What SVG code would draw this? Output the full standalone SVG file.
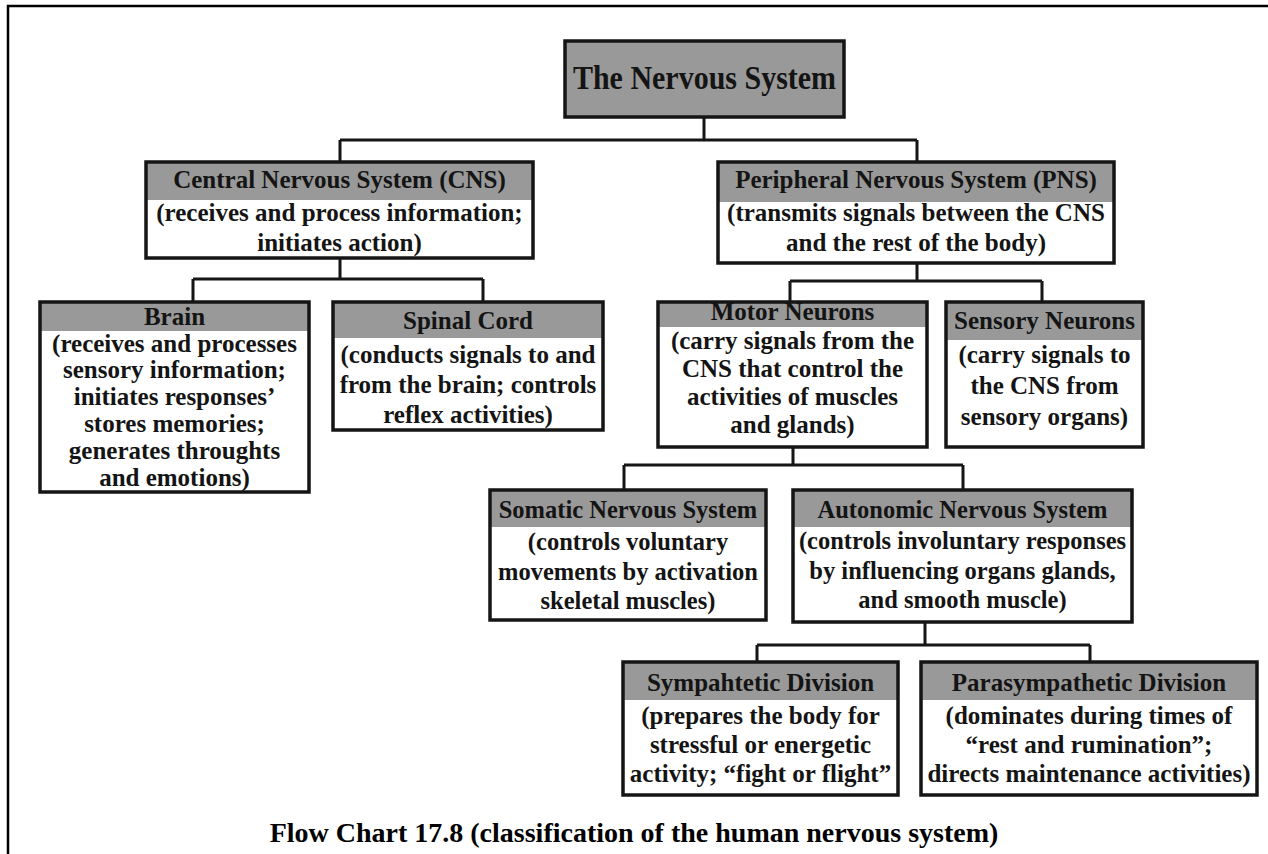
<svg xmlns="http://www.w3.org/2000/svg" width="1268" height="854" viewBox="0 0 1268 854">
<style>
.bg{fill:#fff}
.hd{fill:#999999}
.bd{fill:none;stroke:#151515;stroke-width:3.5}
.ln{fill:none;stroke:#151515;stroke-width:3}
.t{font-family:"Liberation Serif","Times New Roman",serif;font-weight:bold;font-size:25px;text-anchor:middle;fill:#141414}
.s{font-size:24.5px}
.cap{font-family:"Liberation Serif","Times New Roman",serif;font-weight:bold;font-size:28px;text-anchor:middle;fill:#000}
</style>
<rect x="0" y="0" width="1268" height="854" fill="#fff"/>
<path d="M8,854 V6 H1268" fill="none" stroke="#000" stroke-width="2.5"/>
<g id="connectors" class="ln">
<path d="M704,117 V140 M340,140 H917 M340,140 V162 M917,140 V162"/>
<path d="M340,258 V279 M193,279 H483 M193,279 V302 M483,279 V302"/>
<path d="M917,263 V281 M790,281 H1042 M790,281 V302 M1042,281 V302"/>
<path d="M793,447 V465 M624,465 H963 M624,465 V490 M963,465 V490"/>
<path d="M925,622 V645 M757,645 H1090 M757,645 V662 M1090,645 V662"/>
</g>
<g id="nervous-system">
<rect class="hd" x="565" y="41" width="279" height="76"/>
<rect class="bd" x="565" y="41" width="279" height="76"/>
<text class="t" x="0" y="0" style="font-size:30px" transform="translate(704.5,89) scale(1,1.15)">The Nervous System</text>
</g>
<g id="cns">
<rect class="bg" x="146" y="162" width="387" height="96"/>
<rect class="hd" x="146" y="162" width="387" height="38"/>
<rect class="bd" x="146" y="162" width="387" height="96"/>
<text class="t" x="339.5" y="188">Central Nervous System (CNS)</text>
<text class="t" x="339.5" y="221">(receives and process information;</text>
<text class="t" x="339.5" y="251">initiates action)</text>
</g>
<g id="pns">
<rect class="bg" x="718" y="162" width="396" height="101"/>
<rect class="hd" x="718" y="162" width="396" height="40"/>
<rect class="bd" x="718" y="162" width="396" height="101"/>
<text class="t" x="916" y="188">Peripheral Nervous System (PNS)</text>
<text class="t" x="916" y="221">(transmits signals between the CNS</text>
<text class="t" x="916" y="251">and the rest of the body)</text>
</g>
<g id="brain">
<rect class="bg" x="40" y="302" width="269" height="190"/>
<rect class="hd" x="40" y="302" width="269" height="29"/>
<rect class="bd" x="40" y="302" width="269" height="190"/>
<text class="t" x="174.5" y="325">Brain</text>
<text class="t" x="174.5" y="352">(receives and processes</text>
<text class="t" x="174.5" y="378">sensory information;</text>
<text class="t" x="174.5" y="405">initiates responses’</text>
<text class="t" x="174.5" y="432">stores memories;</text>
<text class="t" x="174.5" y="459">generates throughts</text>
<text class="t" x="174.5" y="486">and emotions)</text>
</g>
<g id="spinal-cord">
<rect class="bg" x="333" y="302" width="270" height="128"/>
<rect class="hd" x="333" y="302" width="270" height="36"/>
<rect class="bd" x="333" y="302" width="270" height="128"/>
<text class="t" x="468" y="329">Spinal Cord</text>
<text class="t" x="468" y="363">(conducts signals to and</text>
<text class="t" x="468" y="393">from the brain; controls</text>
<text class="t" x="468" y="423">reflex activities)</text>
</g>
<g id="motor-neurons">
<rect class="bg" x="658" y="302" width="269" height="145"/>
<rect class="hd" x="658" y="302" width="269" height="25"/>
<rect class="bd" x="658" y="302" width="269" height="145"/>
<text class="t" x="792.5" y="320">Motor Neurons</text>
<text class="t" x="792.5" y="349">(carry signals from the</text>
<text class="t" x="792.5" y="377">CNS that control the</text>
<text class="t" x="792.5" y="405">activities of muscles</text>
<text class="t" x="792.5" y="433">and glands)</text>
</g>
<g id="sensory-neurons">
<rect class="bg" x="946" y="302" width="197" height="145"/>
<rect class="hd" x="946" y="302" width="197" height="38"/>
<rect class="bd" x="946" y="302" width="197" height="145"/>
<text class="t" x="1044.5" y="329">Sensory Neurons</text>
<text class="t" x="1044.5" y="363">(carry signals to</text>
<text class="t" x="1044.5" y="394">the CNS from</text>
<text class="t" x="1044.5" y="425">sensory organs)</text>
</g>
<g id="somatic">
<rect class="bg" x="490" y="490" width="276" height="130"/>
<rect class="hd" x="490" y="490" width="276" height="37"/>
<rect class="bd" x="490" y="490" width="276" height="130"/>
<text class="t s" x="628" y="518">Somatic Nervous System</text>
<text class="t s" x="628" y="550">(controls voluntary</text>
<text class="t s" x="628" y="580">movements by activation</text>
<text class="t s" x="628" y="609">skeletal muscles)</text>
</g>
<g id="autonomic">
<rect class="bg" x="793" y="490" width="339" height="132"/>
<rect class="hd" x="793" y="490" width="339" height="37"/>
<rect class="bd" x="793" y="490" width="339" height="132"/>
<text class="t s" x="962.5" y="518">Autonomic Nervous System</text>
<text class="t s" x="962.5" y="549">(controls involuntary responses</text>
<text class="t s" x="962.5" y="579">by influencing organs glands,</text>
<text class="t s" x="962.5" y="608">and smooth muscle)</text>
</g>
<g id="sympathetic">
<rect class="bg" x="623" y="662" width="275" height="133"/>
<rect class="hd" x="623" y="662" width="275" height="38"/>
<rect class="bd" x="623" y="662" width="275" height="133"/>
<text class="t" x="760.5" y="691">Sympahtetic Division</text>
<text class="t" x="760.5" y="724">(prepares the body for</text>
<text class="t" x="760.5" y="753">stressful or energetic</text>
<text class="t" x="760.5" y="782">activity; “fight or flight”</text>
</g>
<g id="parasympathetic">
<rect class="bg" x="921" y="662" width="336" height="133"/>
<rect class="hd" x="921" y="662" width="336" height="38"/>
<rect class="bd" x="921" y="662" width="336" height="133"/>
<text class="t" x="1089" y="691">Parasympathetic Division</text>
<text class="t" x="1089" y="724">(dominates during times of</text>
<text class="t" x="1089" y="753">“rest and rumination”;</text>
<text class="t" x="1089" y="782">directs maintenance activities)</text>
</g>
<text class="cap" x="634" y="842">Flow Chart 17.8 (classification of the human nervous system)</text>
</svg>
